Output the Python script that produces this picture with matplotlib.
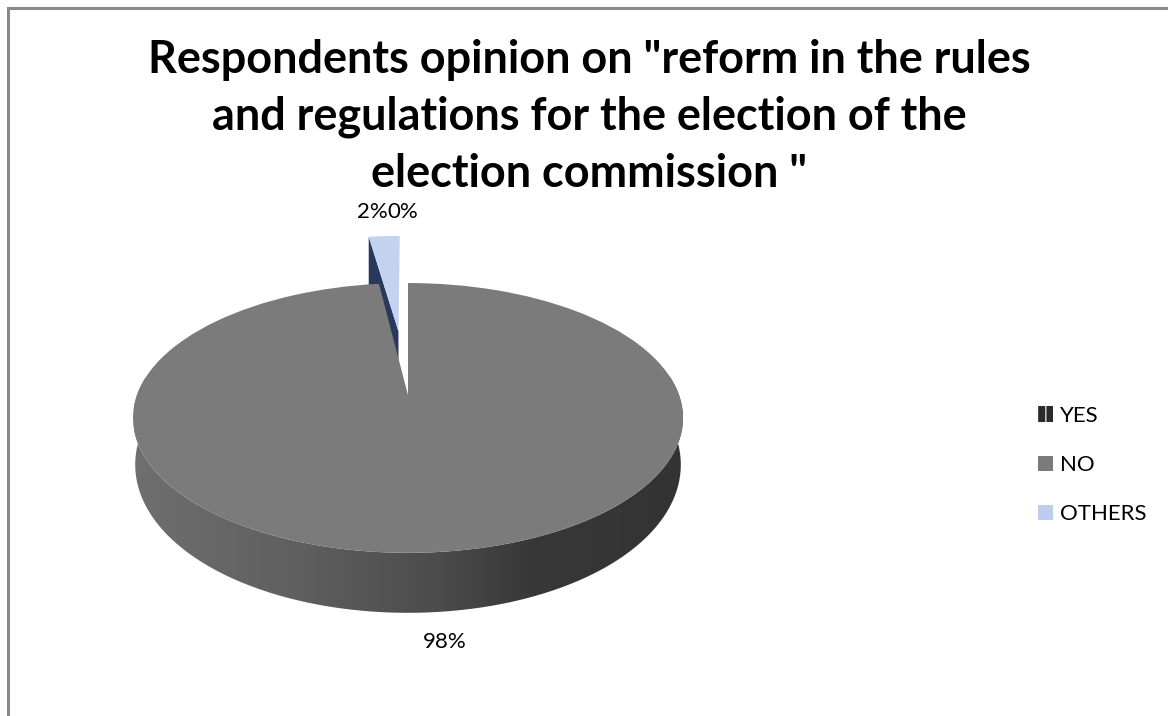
import matplotlib
matplotlib.use("Agg")
import matplotlib.pyplot as plt
import numpy as np
from matplotlib.colors import LinearSegmentedColormap
from matplotlib.patches import Patch, PathPatch
from matplotlib.path import Path
from matplotlib.transforms import Transform

plt.rcParams['font.family'] = ['Lato', 'DejaVu Sans']

# survey answers, in percent
categories = ["YES", "NO", "OTHERS"]
percent    = [2, 98, 0]
title      = 'Respondents opinion on "reform in the rules\nand regulations for the election of the\nelection commission "'

# apex of the pie on the canvas (pixels) and perspective settings
apex_x, apex_y = 408, 395
scale_x, scale_y, tilt = 271, 131, 0.17
explode_yes = 0.53


class Tilt(Transform):
    # perspective view of the flat unit-circle pie, output in canvas pixels
    input_dims = 2
    output_dims = 2
    is_separable = False

    def __init__(self, stretch=1.0):
        super().__init__()
        self.stretch = stretch

    def transform_non_affine(self, values):
        values = np.asarray(values, dtype=float)
        d = 1 + tilt * values[:, 1]
        return np.column_stack((apex_x + self.stretch * scale_x * values[:, 0] / d,
                                apex_y - scale_y * values[:, 1] / d))


fig = plt.figure(figsize=(11.68, 7.16), dpi=100)
ax = fig.add_axes([0, 0, 1, 1])

# first slice ends at twelve o'clock and the rest run clockwise
start = 90 + 360 * percent[0] / sum(percent)
wedges, _ = ax.pie(percent, startangle=start, counterclock=False,
                   explode=[explode_yes, 0, 0], colors=["#c3d3ef", "#7b7b7b", "#bccdee"],
                   wedgeprops={"linewidth": 0})
projection = Tilt()
pulled_out = Tilt(1.15)   # the pulled-out slice sits nearer the viewer
wedges[0].set_transform(pulled_out + ax.transData)
wedges[1].set_transform(projection + ax.transData)
wedges[2].set_transform(projection + ax.transData)
wedges[1].set_zorder(4)
wedges[0].set_zorder(5)

ax.set_aspect("auto")
ax.set_xlim(0, 1168)
ax.set_ylim(716, 0)
ax.axis("off")

# outer wall of the big slice
theta = np.radians(np.linspace(172, 368, 200))
rim = projection.transform(np.column_stack((np.cos(theta), np.sin(theta))))
depth = 44 + 16 * np.clip(-np.sin(theta), 0, 1)
low_x = 409 + (rim[:, 0] - 409) * 0.992
wall = np.vstack((rim, np.column_stack((low_x, rim[:, 1] + depth))[::-1]))
wall_patch = PathPatch(Path(wall), transform=ax.transData, fc="none", lw=0)
ax.add_patch(wall_patch)
wall_cmap = LinearSegmentedColormap.from_list("wall", [
    (0.00, "#6f6f6f"), (0.30, "#5f5f5f"), (0.55, "#4c4c4c"),
    (0.72, "#383838"), (1.00, "#333333")])
shade = ax.imshow(np.linspace(0, 1, 256)[None, :], cmap=wall_cmap, aspect="auto",
                  extent=(134, 684, 620, 280), zorder=3)
shade.set_clip_path(wall_patch)

# cut face of the pulled-out slice, sits behind the big slice
mid = np.radians(start - 0.5 * 360 * percent[0] / sum(percent))
cx, cy = explode_yes * np.cos(mid), explode_yes * np.sin(mid)
edge = np.radians(start)
face = pulled_out.transform(np.array([[cx, cy], [cx + np.cos(edge), cy + np.sin(edge)]]))
ax.fill([face[0, 0], face[1, 0], face[1, 0], face[0, 0]],
        [face[0, 1], face[1, 1], face[1, 1] + 50, face[0, 1] + 30],
        color="#27395c", lw=0, zorder=3.5)

# frame of the chart area
ax.plot([7.5, 7.5, 1168], [716, 8, 8], color="#8a8a8a", lw=2.2,
        solid_joinstyle="miter", zorder=6)

fig.text(589 / 1168, 1 - 117 / 716, title, ha="center", va="center", fontsize=32.4,
         fontweight="bold", color="black", linespacing=1.44)

# data labels
label_pos = [(372, 212), (445, 642), (403, 212)]
for pos, p in zip(label_pos, percent):
    ax.text(pos[0], pos[1], f"{p}%", ha="center", va="center", fontsize=16,
            color="black", zorder=7)

handles = [Patch(facecolor="#2b2b2b", edgecolor="#d8d8d8", hatch="||", lw=0),
           Patch(facecolor="#7b7b7b", lw=0),
           Patch(facecolor="#bccdee", lw=0)]
fig.legend(handles, categories, loc="center left", bbox_to_anchor=(1038 / 1168, 1 - 465 / 716),
           frameon=False, fontsize=16, handlelength=0.68, handleheight=0.68,
           handletextpad=0.32, labelspacing=1.32, borderpad=0, borderaxespad=0)

fig.savefig("out.png", dpi=100)
